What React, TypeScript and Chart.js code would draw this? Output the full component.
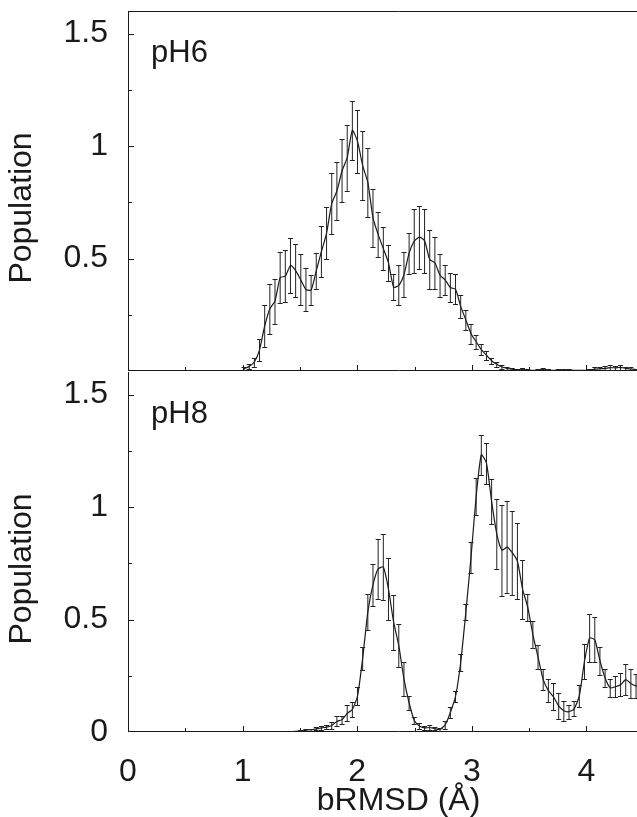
import React, { useEffect, useRef } from 'react';
import { Chart, registerables } from 'chart.js';

Chart.register(...registerables);

// ---------- data ----------
const binCenters = [
  1.0125, 1.0575, 1.1025, 1.1475, 1.1925, 1.2375, 1.2825, 1.3275, 1.3725, 1.4175,
  1.4625, 1.5075, 1.5525, 1.5975, 1.6425, 1.6875, 1.7325, 1.7775, 1.8225, 1.8675,
  1.9125, 1.9575, 2.0025, 2.0475, 2.0925, 2.1375, 2.1825, 2.2275, 2.2725, 2.3175,
  2.3625, 2.4075, 2.4525, 2.4975, 2.5425, 2.5875, 2.6325, 2.6775, 2.7225, 2.7675,
  2.8125, 2.8575, 2.9025, 2.9475, 2.9925, 3.0375, 3.0825, 3.1275, 3.1725, 3.2175,
  3.2625, 3.3075, 3.3525, 3.3975, 3.4425, 3.4875, 3.5325, 3.5775, 3.6225, 3.6675,
  3.7125, 3.7575, 3.8025, 3.8475, 3.8925, 3.9375, 3.9825, 4.0275, 4.0725, 4.1175,
  4.1625, 4.2075, 4.2525, 4.2975, 4.3425, 4.3875, 4.4325, 4.4775,
];

const ph6Population = [
  0.01, 0.02, 0.04, 0.094, 0.2, 0.277, 0.311, 0.415, 0.422, 0.469,
  0.446, 0.405, 0.362, 0.36, 0.445, 0.531, 0.613, 0.745, 0.8, 0.89,
  0.948, 1.07, 1.02, 0.913, 0.838, 0.681, 0.607, 0.544, 0.481, 0.372,
  0.381, 0.428, 0.524, 0.577, 0.595, 0.579, 0.496, 0.481, 0.425, 0.405,
  0.371, 0.363, 0.287, 0.227, 0.166, 0.13, 0.095, 0.07, 0.045, 0.03,
  0.018, 0.012, 0.008, 0.005, 0.006, 0.004, 0.003, 0.004, 0.006, 0.004,
  0.003, 0.004, 0.005, 0.004, 0.003, 0.003, 0.003, 0.004, 0.008, 0.01,
  0.012, 0.015, 0.014, 0.016, 0.012, 0.009, 0.006, 0.005,
];

const ph6Error = [
  0.008, 0.01, 0.02, 0.05, 0.095, 0.111, 0.1, 0.113, 0.115, 0.122,
  0.117, 0.113, 0.095, 0.068, 0.079, 0.113, 0.116, 0.137, 0.129, 0.139,
  0.147, 0.13, 0.14, 0.154, 0.153, 0.13, 0.1, 0.096, 0.081, 0.058,
  0.089, 0.1, 0.091, 0.141, 0.14, 0.143, 0.13, 0.115, 0.096, 0.065,
  0.064, 0.067, 0.05, 0.046, 0.044, 0.03, 0.025, 0.02, 0.015, 0.012,
  0.01, 0.008, 0.005, 0.004, 0.006, 0.003, 0.003, 0.004, 0.006, 0.003,
  0.003, 0.005, 0.004, 0.003, 0.002, 0.002, 0.002, 0.004, 0.008, 0.008,
  0.01, 0.012, 0.01, 0.01, 0.008, 0.007, 0.005, 0.004,
];

const ph8Population = [
  null, null, null, null, null, null, null, null, null,
  0.002, 0.003, 0.005, 0.008, 0.01, 0.014, 0.018, 0.022, 0.029, 0.047,
  0.055, 0.083, 0.1, 0.16, 0.328, 0.534, 0.655, 0.725, 0.733, 0.635,
  0.488, 0.384, 0.236, 0.13, 0.051, 0.027, 0.018, 0.02, 0.015, 0.012,
  0.032, 0.087, 0.158, 0.309, 0.533, 0.776, 1.046, 1.232, 1.195, 1.024,
  0.881, 0.808, 0.822, 0.797, 0.759, 0.635, 0.555, 0.433, 0.333, 0.233,
  0.184, 0.156, 0.116, 0.094, 0.09, 0.103, 0.16, 0.314, 0.418, 0.41,
  0.317, 0.24, 0.196, 0.201, 0.21, 0.233, 0.216, 0.205, 0.2,
];

const ph8Error = [
  null, null, null, null, null, null, null, null, null,
  0.001, 0.002, 0.003, 0.004, 0.005, 0.007, 0.009, 0.01, 0.015, 0.022,
  0.018, 0.035, 0.032, 0.042, 0.052, 0.08, 0.093, 0.133, 0.148, 0.139,
  0.122, 0.096, 0.074, 0.032, 0.015, 0.012, 0.01, 0.012, 0.008, 0.006,
  0.017, 0.024, 0.026, 0.036, 0.034, 0.07, 0.082, 0.088, 0.091, 0.1,
  0.156, 0.202, 0.204, 0.187, 0.17, 0.131, 0.06, 0.06, 0.052, 0.048,
  0.052, 0.06, 0.057, 0.043, 0.032, 0.033, 0.047, 0.078, 0.108, 0.1,
  0.063, 0.041, 0.041, 0.046, 0.052, 0.07, 0.064, 0.055, 0.05,
];

const panelLabels = ['pH6', 'pH8'];
const xAxisTitle = 'bRMSD (Å)';
const yAxisTitle = 'Population';
const xTickLabels = [0, 1, 2, 3, 4];
const yTickLabelsTop = [0.5, 1, 1.5];
const yTickLabelsBottom = [0, 0.5, 1, 1.5];
const X_MIN = 0;
const X_MAX = 4.72;
const Y_MIN = 0;
const Y_MAX = 1.6;

// ---------- styling ----------
const FONT = '"Liberation Sans", Arial, Helvetica, sans-serif';
const INK = '#1a1a1a';
const FONT_SIZE = 32;

const near = (list: number[], v: number) => list.some((m) => Math.abs(m - v) < 1e-6);

const errorBarPlugin = {
  id: 'errorBars',
  afterDatasetsDraw(chart: any) {
    const { ctx, chartArea: a } = chart;
    const xs = chart.scales.x;
    const ys = chart.scales.y;
    ctx.save();
    ctx.beginPath();
    ctx.rect(a.left, a.top - 2, a.right - a.left, a.bottom - a.top + 2);
    ctx.clip();
    ctx.strokeStyle = '#222222';
    ctx.lineWidth = 1;
    chart.data.datasets.forEach((ds: any) => {
      const errs = ds.errorBars;
      if (!errs) return;
      ds.data.forEach((pt: any, i: number) => {
        const e = errs[i];
        if (pt == null || pt.y == null || e == null || e <= 0) return;
        const px = xs.getPixelForValue(pt.x);
        const top = Math.round(ys.getPixelForValue(pt.y + e)) + 0.5;
        const bot = Math.round(ys.getPixelForValue(pt.y - e)) + 0.5;
        ctx.beginPath();
        ctx.moveTo(px, top);
        ctx.lineTo(px, bot);
        ctx.moveTo(px - 2.5, top);
        ctx.lineTo(px + 2.5, top);
        ctx.moveTo(px - 2.5, bot);
        ctx.lineTo(px + 2.5, bot);
        ctx.stroke();
      });
    });
    ctx.restore();
  },
};

const framePlugin = {
  id: 'frame',
  afterDraw(chart: any, _args: any, opts: any) {
    const { ctx, chartArea: a } = chart;
    const xs = chart.scales.x;
    const ys = chart.scales.y;
    ctx.save();
    ctx.strokeStyle = INK;
    ctx.lineWidth = 1;
    ctx.beginPath();
    // left axis
    ctx.moveTo(a.left + 0.5, a.top);
    ctx.lineTo(a.left + 0.5, a.bottom);
    // bottom axis
    ctx.moveTo(a.left, a.bottom - 0.5);
    ctx.lineTo(a.right, a.bottom - 0.5);
    if (opts.topBorder) {
      ctx.moveTo(a.left, a.top + 0.5);
      ctx.lineTo(a.right, a.top + 0.5);
    }
    // inward y ticks
    ys.ticks.forEach((t: any) => {
      if (t.value <= Y_MIN + 1e-9) return;
      const py = Math.round(ys.getPixelForValue(t.value)) + 0.5;
      const len = near([0.5, 1, 1.5], t.value) ? 6 : 4;
      ctx.moveTo(a.left, py);
      ctx.lineTo(a.left + len, py);
    });
    // inward x ticks
    xs.ticks.forEach((t: any) => {
      if (t.value <= X_MIN + 1e-9) return;
      const px = Math.round(xs.getPixelForValue(t.value)) + 0.5;
      const len = Number.isInteger(t.value) ? 6 : 4;
      ctx.moveTo(px, a.bottom);
      ctx.lineTo(px, a.bottom - len);
    });
    ctx.stroke();

    // panel label
    ctx.fillStyle = INK;
    ctx.font = `${FONT_SIZE - 1}px ${FONT}`;
    ctx.textAlign = 'left';
    ctx.textBaseline = 'alphabetic';
    ctx.fillText(opts.label, a.left + 23, a.top + 51);

    // vertical axis title
    ctx.font = `${FONT_SIZE}px ${FONT}`;
    ctx.textAlign = 'center';
    ctx.textBaseline = 'middle';
    ctx.translate(22, (a.top + a.bottom) / 2 + 17);
    ctx.rotate(-Math.PI / 2);
    ctx.fillText(opts.yTitle, 0, 0);
    ctx.restore();
  },
};

function buildConfig(isTop: boolean): any {
  const values = isTop ? ph6Population : ph8Population;
  const errors = isTop ? ph6Error : ph8Error;
  const yLabels = isTop ? yTickLabelsTop : yTickLabelsBottom;
  return {
    type: 'line',
    data: {
      datasets: [
        {
          data: binCenters.map((x, i) => ({ x, y: values[i] })),
          errorBars: errors,
          borderColor: INK,
          borderWidth: 1.2,
          pointRadius: 0,
          tension: 0.2,
          fill: false,
          spanGaps: false,
        },
      ],
    },
    options: {
      responsive: false,
      animation: false,
      devicePixelRatio: 1,
      layout: { padding: isTop ? { top: 11, bottom: 1, left: 0, right: 0 } : { top: 0, bottom: 0, left: 0, right: 0 } },
      plugins: {
        legend: { display: false },
        tooltip: { enabled: false },
        frame: { topBorder: isTop, label: isTop ? panelLabels[0] : panelLabels[1], yTitle: yAxisTitle },
      },
      scales: {
        x: {
          type: 'linear',
          min: X_MIN,
          max: X_MAX,
          afterFit: (s: any) => {
            s.height = isTop ? 0 : 85;
            s.paddingLeft = 0;
            s.paddingRight = 0;
            s.paddingTop = 0;
            s.paddingBottom = 0;
          },
          grid: { display: false, drawTicks: false },
          border: { display: false },
          ticks: {
            display: !isTop,
            stepSize: 0.5,
            includeBounds: false,
            autoSkip: false,
            maxRotation: 0,
            padding: 21,
            color: INK,
            font: { size: FONT_SIZE, family: FONT },
            callback: (v: number) => (near(xTickLabels, v) ? String(v) : ''),
          },
          title: {
            display: !isTop,
            text: xAxisTitle,
            color: INK,
            font: { size: FONT_SIZE, family: FONT, lineHeight: 1.0 },
            padding: { top: 0, bottom: 0 },
          },
        },
        y: {
          type: 'linear',
          min: Y_MIN,
          max: Y_MAX,
          afterFit: (s: any) => {
            s.width = 128;
            s.paddingLeft = 0;
            s.paddingRight = 0;
            s.paddingTop = 0;
            s.paddingBottom = 0;
          },
          grid: { display: false, drawTicks: false },
          border: { display: false },
          ticks: {
            stepSize: 0.25,
            includeBounds: false,
            autoSkip: false,
            padding: 20,
            color: INK,
            font: { size: FONT_SIZE, family: FONT },
            callback: (v: number) => (near(yLabels, v) ? String(v) : ''),
          },
        },
      },
    },
    plugins: [errorBarPlugin, framePlugin],
  };
}

export default function App() {
  const topRef = useRef<HTMLCanvasElement>(null);
  const botRef = useRef<HTMLCanvasElement>(null);

  useEffect(() => {
    Chart.defaults.font.family = FONT;
    Chart.defaults.color = INK;
    const top = new Chart(topRef.current as HTMLCanvasElement, buildConfig(true));
    const bot = new Chart(botRef.current as HTMLCanvasElement, buildConfig(false));
    return () => {
      top.destroy();
      bot.destroy();
    };
  }, []);

  return (
    <div
      style={{
        position: 'fixed',
        left: 0,
        top: 0,
        width: 637,
        height: 817,
        overflow: 'hidden',
        background: '#ffffff',
      }}
    >
      <canvas
        ref={topRef}
        width={669}
        height={372}
        style={{ position: 'absolute', left: 0, top: 0, width: 669, height: 372, display: 'block' }}
      />
      <canvas
        ref={botRef}
        width={669}
        height={445}
        style={{ position: 'absolute', left: 0, top: 372, width: 669, height: 445, display: 'block' }}
      />
    </div>
  );
}
